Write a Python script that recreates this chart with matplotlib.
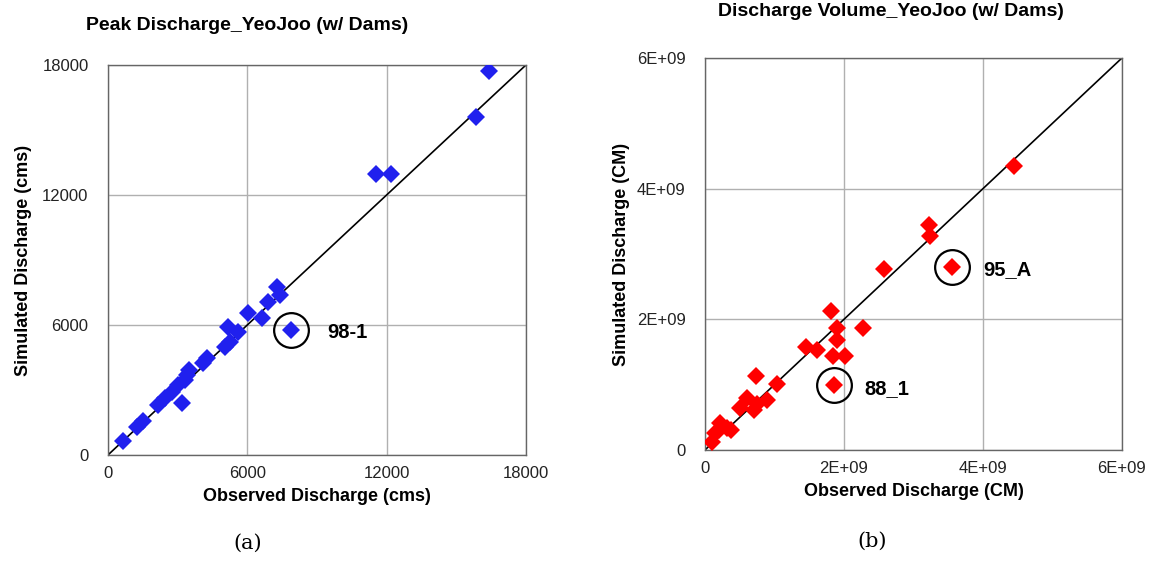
import numpy as np
import matplotlib
matplotlib.use("Agg")
import matplotlib.pyplot as plt

plt.rcParams['font.family'] = ['Liberation Sans', 'DejaVu Sans']

# (a) peak discharge, cms
peak_obs = [650, 1250, 1500, 2150, 2450, 2740, 3200, 3030, 3390, 3300, 3500,
            4100, 4250, 5040, 5250, 5180, 5610, 6040, 6620, 6900, 7260, 7410,
            7870, 11550, 12200, 15850, 16400]
peak_sim = [650, 1300, 1550, 2300, 2620, 2920, 2400, 3230, 3690, 3450, 3900,
            4230, 4460, 5000, 5230, 5920, 5690, 6540, 6310, 7070, 7770, 7380,
            5770, 12950, 12950, 15600, 17700]
peak_outlier = (7870, 5770, "98-1")

# (b) discharge volume, CM (in 1E9)
vol_obs = [0.10, 0.14, 0.20, 0.22, 0.31, 0.38, 0.50, 0.60, 0.70, 0.75, 0.89,
           0.73, 1.03, 1.46, 1.61, 1.84, 2.01, 1.90, 1.90, 2.28, 1.82, 1.86,
           2.58, 3.56, 3.24, 3.23, 4.44]
vol_sim = [0.13, 0.26, 0.30, 0.41, 0.33, 0.31, 0.64, 0.79, 0.61, 0.70, 0.77,
           1.13, 1.01, 1.57, 1.53, 1.44, 1.44, 1.68, 1.86, 1.86, 2.13, 0.99,
           2.77, 2.80, 3.27, 3.45, 4.35]
vol_outliers = [(1.86, 0.99, "88_1"), (3.56, 2.80, "95_A")]

peak_ticks = [0, 6000, 12000, 18000]
vol_ticks = [0, 2e9, 4e9, 6e9]
vol_ticklabels = ["0", "2E+09", "4E+09", "6E+09"]


def style_axes(ax, ticks, labels, lim):
    ax.set_xlim(0, lim)
    ax.set_ylim(0, lim)
    ax.set_xticks(ticks)
    ax.set_yticks(ticks)
    ax.set_xticklabels(labels)
    ax.set_yticklabels(labels)
    ax.grid(True, color="#b0b0b0", linewidth=1.0)
    ax.set_axisbelow(True)
    ax.tick_params(axis="both", length=0, labelsize=12, colors="#222222")
    ax.tick_params(axis="x", pad=8)
    ax.tick_params(axis="y", pad=14)
    for s in ax.spines.values():
        s.set_color("#666666")
        s.set_linewidth(1.0)
    ax.plot([0, lim], [0, lim], color="black", linewidth=1.2, zorder=2)


fig = plt.figure(figsize=(11.57, 5.62), dpi=100)

ax1 = fig.add_axes([0.0933, 0.1904, 0.3613, 0.694])
style_axes(ax1, peak_ticks, [str(t) for t in peak_ticks], 18000)
ax1.plot(peak_obs, peak_sim, linestyle="none", marker="D", markersize=9.5,
         color="#2020ee", markeredgewidth=0, zorder=3)
ox, oy, lab = peak_outlier
ax1.plot([ox], [oy], marker="o", markersize=25, markerfacecolor="none",
         markeredgecolor="black", markeredgewidth=1.6, linestyle="none", zorder=4)
ax1.annotate(lab, (ox, oy), xytext=(26, -2), textcoords="offset points",
             fontsize=14.5, fontweight="bold", va="center", ha="left")
ax1.set_xlabel("Observed Discharge (cms)", fontsize=13, fontweight="bold", labelpad=5)
ax1.set_ylabel("Simulated Discharge (cms)", fontsize=13, fontweight="bold", labelpad=7)

ax2 = fig.add_axes([0.6093, 0.1993, 0.3604, 0.6975])
style_axes(ax2, vol_ticks, vol_ticklabels, 6e9)
ax2.plot(np.array(vol_obs) * 1e9, np.array(vol_sim) * 1e9, linestyle="none",
         marker="D", markersize=9.5, color="#ff0000", markeredgewidth=0, zorder=3)
for ox, oy, lab in vol_outliers:
    ax2.plot([ox * 1e9], [oy * 1e9], marker="o", markersize=25, markerfacecolor="none",
             markeredgecolor="black", markeredgewidth=1.6, linestyle="none", zorder=4)
    ax2.annotate(lab, (ox * 1e9, oy * 1e9), xytext=(22, -2), textcoords="offset points",
                 fontsize=14.5, fontweight="bold", va="center", ha="left")
ax2.set_xlabel("Observed Discharge (CM)", fontsize=13, fontweight="bold", labelpad=5)
ax2.set_ylabel("Simulated Discharge (CM)", fontsize=13, fontweight="bold", labelpad=5)

fig.text(0.2135, 0.9555, "Peak Discharge_YeoJoo (w/ Dams)", ha="center", va="center",
         fontsize=14, fontweight="bold")
fig.text(0.770, 0.980, "Discharge Volume_YeoJoo (w/ Dams)", ha="center", va="center",
         fontsize=14, fontweight="bold")
fig.text(0.2145, 0.034, "(a)", ha="center", va="center", fontsize=15,
         family="DejaVu Serif")
fig.text(0.7535, 0.036, "(b)", ha="center", va="center", fontsize=15,
         family="DejaVu Serif")

fig.savefig("out.png", dpi=100)
